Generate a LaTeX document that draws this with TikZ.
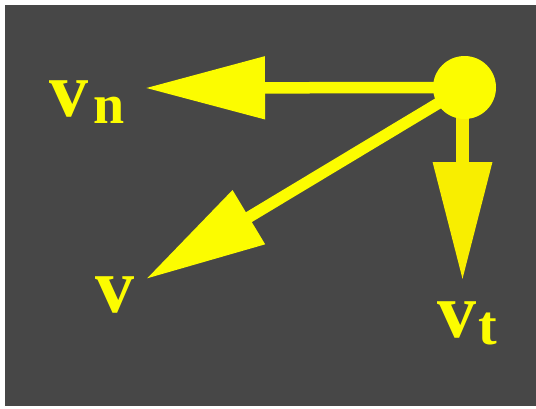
\documentclass[tikz,border=0pt]{standalone}
\usepackage{fontspec}
\setmainfont{Liberation Serif}
\usetikzlibrary{arrows.meta}
\definecolor{vbg}{RGB}{71,71,71}
\definecolor{vyel}{RGB}{252,252,0}
\definecolor{vyeldark}{RGB}{248,238,0}
\newcommand{\vsub}[1]{{\fontsize{56bp}{58bp}\selectfont\raisebox{-7bp}{#1}}}
\tikzset{
  vec/.style={draw=vyel, line width=11.5bp,
    -{Triangle[length=120bp,width=60bp]}},
  dot/.style={circle, fill=vyel, inner sep=0pt, minimum size=63bp},
  lbl/.style={text=vyel, inner sep=0pt, anchor=base west,
    font=\fontsize{78bp}{80bp}\selectfont\bfseries}
}
\begin{document}
\begin{tikzpicture}[x=1bp,y=-1bp]
  \useasboundingbox (0,0) rectangle (536,408);
  \fill[white] (0,0) rectangle (536,408);
  \fill[vbg] (4.5,5) rectangle (536,406);
  \coordinate (oc) at (464.5,87.5);
  \coordinate (tn) at (145,88);
  \coordinate (tt) at (462.5,281);
  \coordinate (tv) at (146,279);
  \draw[vec] (oc) -- (tn);
  \draw[vec, draw=vyeldark, line width=13bp,
    -{Triangle[length=119bp,width=56bp]}] (oc -| tt) -- (tt);
  \draw[vec] (oc) -- (tv);
  \node[dot] (o) at (oc) {};
  \node[lbl] (vn) at (49,116.7) {v\hspace{5bp}\vsub{n}};
  \node[lbl] (v) at (95,312) {v};
  \node[lbl] (vt) at (437,337) {v\hspace{2bp}\vsub{t}};
\end{tikzpicture}
\end{document}
